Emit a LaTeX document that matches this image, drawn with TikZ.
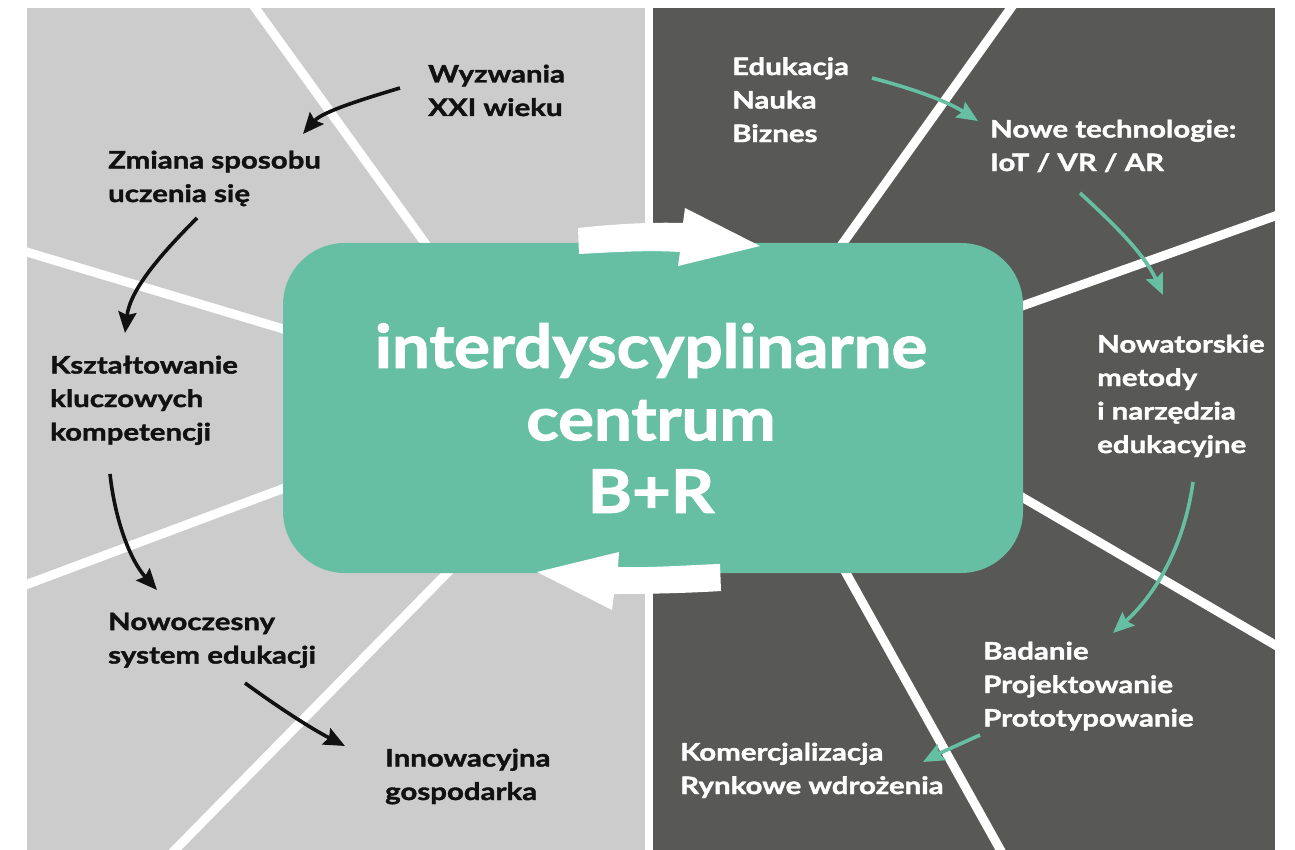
\documentclass[tikz,border=0pt]{standalone}
\usepackage{fontspec}
\setmainfont{Lato}
\newfontfamily\labfont{Lato}[FakeStretch=1.225,FakeBold=1.6]
\newfontfamily\titfont{Lato}[FakeStretch=1.12,FakeBold=1.6]
\usetikzlibrary{arrows.meta}
\definecolor{lightp}{HTML}{CBCCCB}
\definecolor{darkp}{HTML}{585856}
\definecolor{hubteal}{HTML}{66BFA3}
\definecolor{ink}{HTML}{111111}
\begin{document}
\begin{tikzpicture}[x=1pt,y=-1pt,
  lbl/.style={anchor=north west, inner sep=0pt, align=left,
    font=\labfont\bfseries\fontsize{24}{33.5}\selectfont},
  darklbl/.style={lbl,text=ink},
  brightlbl/.style={lbl,text=white},
  ray/.style={draw=white, line width=9pt},
  conn/.style={line width=3.6pt, -{Stealth[length=21pt,width=18pt,inset=3pt]}},
  blackconn/.style={conn,draw=ink},
  tealconn/.style={conn,draw=hubteal},
  hubbox/.style={fill=hubteal, rounded corners=62pt, minimum width=740pt,
    minimum height=330pt, inner sep=0pt},
  title/.style={anchor=north, inner sep=0pt, align=center, text=white,
    font=\titfont\bfseries\fontsize{60}{72.5}\selectfont}
]
\useasboundingbox (0,0) rectangle (1295,850);
\fill[white] (0,0) rectangle (1295,850);
% panels
\fill[lightp] (27,8) rectangle (645,850);
\fill[darkp] (653,8) rectangle (1275,850);
% rays
\begin{scope}
\clip (27,8) rectangle (645,850);
\draw[ray] (248,-2) -- (430,250);
\draw[ray] (20,250) -- (290,331);
\draw[ray] (20,587) -- (290,486);
\draw[ray] (165,860) -- (455,565);
\end{scope}
\begin{scope}
\clip (653,8) rectangle (1275,850);
\draw[ray] (1018,-2) -- (838,250);
\draw[ray] (1282,213.5) -- (1015,308.5);
\draw[ray] (1015,493) -- (1282,649);
\draw[ray] (841,564) -- (1006,860);
\end{scope}
% hub
\node[hubbox] (hub) at (653,408) {};
% white circulation arrows
\fill[white] (578,228) .. controls (615,224) and (650,222) .. (683,223) -- (685,208) -- (760,246)
  -- (678,266) -- (680,252) .. controls (650,250) and (615,252) .. (579,254) -- cycle;
\fill[white] (720,564) .. controls (690,565) and (650,568) .. (618,567) -- (619,552) -- (537,572)
  -- (612,610) -- (614,594) .. controls (650,594) and (690,593) .. (721,591) -- cycle;
\node[title] (tit) at (651,323) {interdyscyplinarne\\centrum\\B+R};
% labels left
\node[darklbl] (wyz) at (428,64.5) {Wyzwania\\XXI wieku};
\node[darklbl] (zmi) at (108,150.5) {Zmiana sposobu\\uczenia się};
\node[darklbl] (ksz) at (50,355.5) {Kształtowanie\\kluczowych\\kompetencji};
\node[darklbl] (now) at (108,612.5) {Nowoczesny\\system edukacji};
\node[darklbl] (inn) at (385,748.5) {Innowacyjna\\gospodarka};
% labels right
\node[brightlbl] (edu) at (732,57) {Edukacja\\Nauka\\Biznes};
\node[brightlbl] (tech) at (990,119.5) {Nowe technologie:\\IoT / VR / AR};
\node[brightlbl] (met) at (1097,334.5) {Nowatorskie\\metody\\i narzędzia\\edukacyjne};
\node[brightlbl] (bad) at (983,641.5) {Badanie\\Projektowanie\\Prototypowanie};
\node[brightlbl] (kom) at (680,742.5) {Komercjalizacja\\Rynkowe wdrożenia};
% connector ends
\coordinate (a1) at (400,88);   \coordinate (a2) at (303,134);
\coordinate (b1) at (197,218);  \coordinate (b2) at (125,333);
\coordinate (c1) at (110,474);  \coordinate (c2) at (157,590);
\coordinate (d1) at (245,683);  \coordinate (d2) at (345,746);
\coordinate (e1) at (872,78);   \coordinate (e2) at (978,121);
\coordinate (f1) at (1080,193); \coordinate (f2) at (1163,295);
\coordinate (g1) at (1193,482); \coordinate (g2) at (1113,633);
\coordinate (h1) at (980,735);  \coordinate (h2) at (923,762);
\draw[blackconn] (a1) .. controls (360,100) and (322,112) .. (a2);
\draw[blackconn] (b1) .. controls (160,255) and (130,290) .. (b2);
\draw[blackconn] (c1) .. controls (115,520) and (130,560) .. (c2);
\draw[blackconn] (d1) .. controls (275,705) and (310,728) .. (d2);
\draw[tealconn] (e1) .. controls (910,88) and (945,100) .. (e2);
\draw[tealconn] (f1) .. controls (1115,225) and (1145,255) .. (f2);
\draw[tealconn] (g1) .. controls (1185,540) and (1160,590) .. (g2);
\draw[tealconn] (h1) .. controls (960,744) and (940,753) .. (h2);
\end{tikzpicture}
\end{document}
